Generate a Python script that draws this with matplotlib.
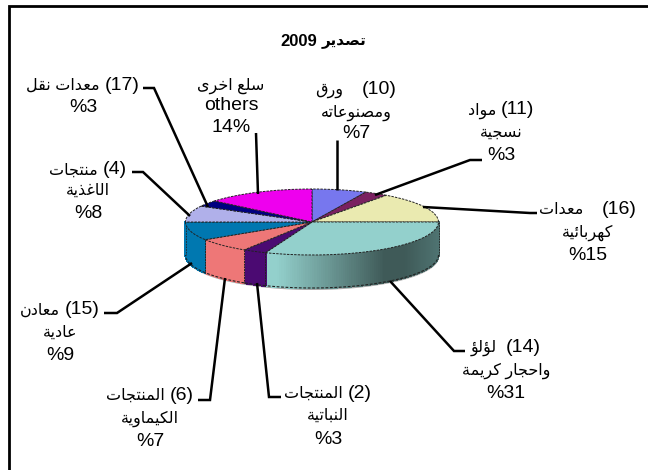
import re
import numpy as np
import matplotlib
matplotlib.use("Agg")
import matplotlib.pyplot as plt
from matplotlib.patches import Polygon
from matplotlib.colors import to_rgb

plt.rcParams['font.family'] = ['Liberation Sans', 'DejaVu Sans']

# ---- data ----
title_year = "2009"
title_word = "تصدير"
values = [7, 3, 15, 31, 3, 7, 9, 8, 3, 14]
top_colors = ['#7777EE', '#7A2060', '#EAEAB0', '#93D0CC', '#4B0A72',
              '#EE7777', '#0077B0', '#B0B0EA', '#000080', '#EE00EE']
side_colors = ['#6666CC', '#601850', '#B0B080', '#93D0CC', '#4B0A72',
               '#EE7777', '#0078B0', '#9090C0', '#000070', '#B000B0']
labels = [
    ["(10)    ورق", "ومصنوعاته", "%7"],
    ["(11) مواد", "نسجية", "%3"],
    ["(16)    معدات", "كهربائية", "%15"],
    ["(14)  لؤلؤ", "واحجار كريمة", "%31"],
    ["(2) المنتجات", "النباتية", "%3"],
    ["(6) المنتجات", "الكيماوية", "%7"],
    ["(15) معادن", "عادية", "%9"],
    ["(4) منتجات", "الاغذية", "%8"],
    ["(17) معدات نقل", "%3"],
    ["سلع اخرى", "others", "14%"],
]
label_x = [356, 501, 588, 506, 328, 150, 60, 88, 83, 231]
label_y = [[87, 110, 132], [108, 130, 154], [208, 230, 254], [345, 368, 392],
           [391, 413, 437], [393, 416, 440], [308, 330, 353], [168, 188, 212],
           [83, 105], [83, 104, 126]]
leaders = [
    [(337, 190), (337, 140)],
    [(375, 195), (470, 160), (482, 160)],
    [(423, 207), (530, 213), (537, 213)],
    [(390, 281), (454, 351), (465, 351)],
    [(257, 283), (269, 397), (281, 397)],
    [(225, 278), (210, 400), (198, 400)],
    [(192, 263), (117, 313), (104, 313)],
    [(190, 216), (143, 172), (132, 172)],
    [(208, 207), (154, 88), (143, 88)],
    [(258, 194), (256, 133)],
]

# ---- minimal Arabic shaper (matplotlib does no shaping or bidi) ----
FORMS = {'ء':(0xFE80,0,0,0),'آ':(0xFE81,0xFE82,0,0),'أ':(0xFE83,0xFE84,0,0),'ؤ':(0xFE85,0xFE86,0,0),
'إ':(0xFE87,0xFE88,0,0),'ئ':(0xFE89,0xFE8A,0xFE8B,0xFE8C),'ا':(0xFE8D,0xFE8E,0,0),'ب':(0xFE8F,0xFE90,0xFE91,0xFE92),
'ة':(0xFE93,0xFE94,0,0),'ت':(0xFE95,0xFE96,0xFE97,0xFE98),'ث':(0xFE99,0xFE9A,0xFE9B,0xFE9C),'ج':(0xFE9D,0xFE9E,0xFE9F,0xFEA0),
'ح':(0xFEA1,0xFEA2,0xFEA3,0xFEA4),'خ':(0xFEA5,0xFEA6,0xFEA7,0xFEA8),'د':(0xFEA9,0xFEAA,0,0),'ذ':(0xFEAB,0xFEAC,0,0),
'ر':(0xFEAD,0xFEAE,0,0),'ز':(0xFEAF,0xFEB0,0,0),'س':(0xFEB1,0xFEB2,0xFEB3,0xFEB4),'ش':(0xFEB5,0xFEB6,0xFEB7,0xFEB8),
'ص':(0xFEB9,0xFEBA,0xFEBB,0xFEBC),'ض':(0xFEBD,0xFEBE,0xFEBF,0xFEC0),'ط':(0xFEC1,0xFEC2,0xFEC3,0xFEC4),'ظ':(0xFEC5,0xFEC6,0xFEC7,0xFEC8),
'ع':(0xFEC9,0xFECA,0xFECB,0xFECC),'غ':(0xFECD,0xFECE,0xFECF,0xFED0),'ف':(0xFED1,0xFED2,0xFED3,0xFED4),'ق':(0xFED5,0xFED6,0xFED7,0xFED8),
'ك':(0xFED9,0xFEDA,0xFEDB,0xFEDC),'ل':(0xFEDD,0xFEDE,0xFEDF,0xFEE0),'م':(0xFEE1,0xFEE2,0xFEE3,0xFEE4),'ن':(0xFEE5,0xFEE6,0xFEE7,0xFEE8),
'ه':(0xFEE9,0xFEEA,0xFEEB,0xFEEC),'و':(0xFEED,0xFEEE,0,0),'ى':(0xFEEF,0xFEF0,0,0),'ي':(0xFEF1,0xFEF2,0xFEF3,0xFEF4)}
ARABIC_RUN = re.compile(r'[ء-ي]+(?: [ء-ي]+)*')

def shape_word(w):
    out = []
    for i, c in enumerate(w):
        prev = w[i-1] if i else ''
        nxt = w[i+1] if i+1 < len(w) else ''
        f = FORMS[c]
        jp = prev in FORMS and FORMS[prev][2] != 0
        jn = nxt in FORMS and f[2] != 0
        if jp and jn: g = f[3]
        elif jn: g = f[2]
        elif jp: g = f[1] or f[0]
        else: g = f[0]
        out.append(chr(g))
    return ''.join(reversed(out))

def shape(run):
    return ' '.join(shape_word(w) for w in reversed(run.split(' ')))

# ---- figure ----
W, H = 648, 470
fig = plt.figure(figsize=(W/100, H/100), dpi=100, facecolor='white')
CX, CY, RX, RY, DEPTH = 312, 222, 126.5, 33, 33

ax = fig.add_axes([0, 0, 1, 1])
ax.pie(values, colors=top_colors, startangle=90, counterclock=False, radius=1,
       wedgeprops=dict(edgecolor='#222222', linewidth=0.7, linestyle=(0, (2.5, 1.2))),
       frame=True)
ax.set_aspect('auto')
ax.set_xlim(-CX/RX, (W-CX)/RX)
ax.set_ylim((CY-H)/RY, CY/RY)
ax.axis('off')
ax.set_zorder(3)

px = fig.add_axes([0, 0, 1, 1])
px.set_xlim(0, W); px.set_ylim(H, 0); px.axis('off')
px.set_zorder(2)

# soft shadow below the rim
t = np.radians(np.linspace(180, 360, 120))
sx = CX + RX*np.cos(t)
sy = CY + DEPTH + 1.5 - RY*np.sin(t)
px.fill_between(sx, CY+DEPTH-12, sy, color='#a8a8a8', lw=0, zorder=1)

# side wall from the same values; angle clockwise from the top
DARK = np.array(to_rgb('#3F5A58'))
END = np.array(to_rgb('#4F7472'))
fr = np.cumsum([0] + values) / sum(values) * 360
for i in range(len(values)):
    a0, a1 = fr[i], fr[i+1]
    lo, hi = max(a0, 90), min(a1, 270)
    if hi <= lo:
        continue
    base = np.array(to_rgb(side_colors[i]))
    n = max(2, int(hi-lo))
    grid = np.linspace(lo, hi, n+1)
    s_lo, s_hi = np.sin(np.radians(lo)), np.sin(np.radians(hi))
    for j in range(n):
        th = np.radians(grid[j:j+2])
        if values[i] == max(values):
            u = (s_lo - np.sin(th.mean())) / (s_lo - s_hi)
            if u < 0.2:
                col = END + (DARK-END)*u/0.2
            else:
                col = DARK + (base-DARK)*np.clip((u-0.32)/0.62, 0, 1)
        else:
            col = base
        xs = CX + RX*np.sin(th)
        ys = CY - RY*np.cos(th)
        quad = np.c_[np.r_[xs, xs[::-1]], np.r_[ys, ys[::-1]+DEPTH]]
        px.add_patch(Polygon(quad, closed=True, fc=col, ec=col, lw=1.0, zorder=2,
                             antialiased=False))
    th = np.radians(np.linspace(lo, hi, 60))
    px.plot(CX+RX*np.sin(th), CY-RY*np.cos(th)+DEPTH, color='#222222', lw=0.8,
            ls=(0, (2.5, 1.5)), zorder=3)
    for a in (lo, hi):
        x = CX + RX*np.sin(np.radians(a)); y = CY - RY*np.cos(np.radians(a))
        px.plot([x, x], [y, y+DEPTH], color='#222222', lw=0.6, ls=(0, (2, 1.2)), zorder=3)

# outer frame: left and top only
px.plot([9, 9, W], [H, 6, 6], color='black', lw=2, zorder=5, solid_joinstyle='miter')

# leaders and labels above the pie
ov = fig.add_axes([0, 0, 1, 1])
ov.set_xlim(0, W); ov.set_ylim(H, 0); ov.axis('off'); ov.set_zorder(4)
for pts in leaders:
    ov.plot(*zip(*pts), color='black', lw=1.8, solid_joinstyle='miter', solid_capstyle='butt')

renderer = fig.canvas.get_renderer()
SIZE_LATIN, SIZE_ARABIC = 14, 11.5

def draw_line(line, cx, cy, size_l=SIZE_LATIN, size_a=SIZE_ARABIC, **kw):
    """Lay out one right-to-left line: each run in its own size, right to left."""
    pieces, pos = [], 0
    for m in ARABIC_RUN.finditer(line):
        before = line[pos:m.start()]
        if before:
            pieces.append(('l', before))
        pieces.append(('a', m.group()))
        pos = m.end()
    if line[pos:]:
        pieces.append(('l', line[pos:]))
    items, total = [], 0
    for kind, s in reversed(pieces):      # visual order, left to right
        before = 4.5 * (len(s) - len(s.rstrip())) if kind == 'l' else 0
        after = 4.5 * (len(s) - len(s.lstrip())) if kind == 'l' else 0
        txt = shape(s) if kind == 'a' else s.strip()
        size = size_a if kind == 'a' else size_l
        t = ov.text(0, cy + 6.5, txt, ha='left', va='baseline', fontsize=size,
                    color='black', **kw)
        w = t.get_window_extent(renderer).width
        items.append((t, before, w, after))
        total += before + w + after
    x = cx - total/2
    for t, before, w, after in items:
        x += before
        t.set_x(x)
        x += w + after

for lines, cx, ys in zip(labels, label_x, label_y):
    for line, y in zip(lines, ys):
        draw_line(line, cx, y)

draw_line(title_word + ' ' + title_year, 323, 39, size_l=12, size_a=11, fontweight='bold')

fig.savefig('out.png', dpi=100, facecolor='white')
